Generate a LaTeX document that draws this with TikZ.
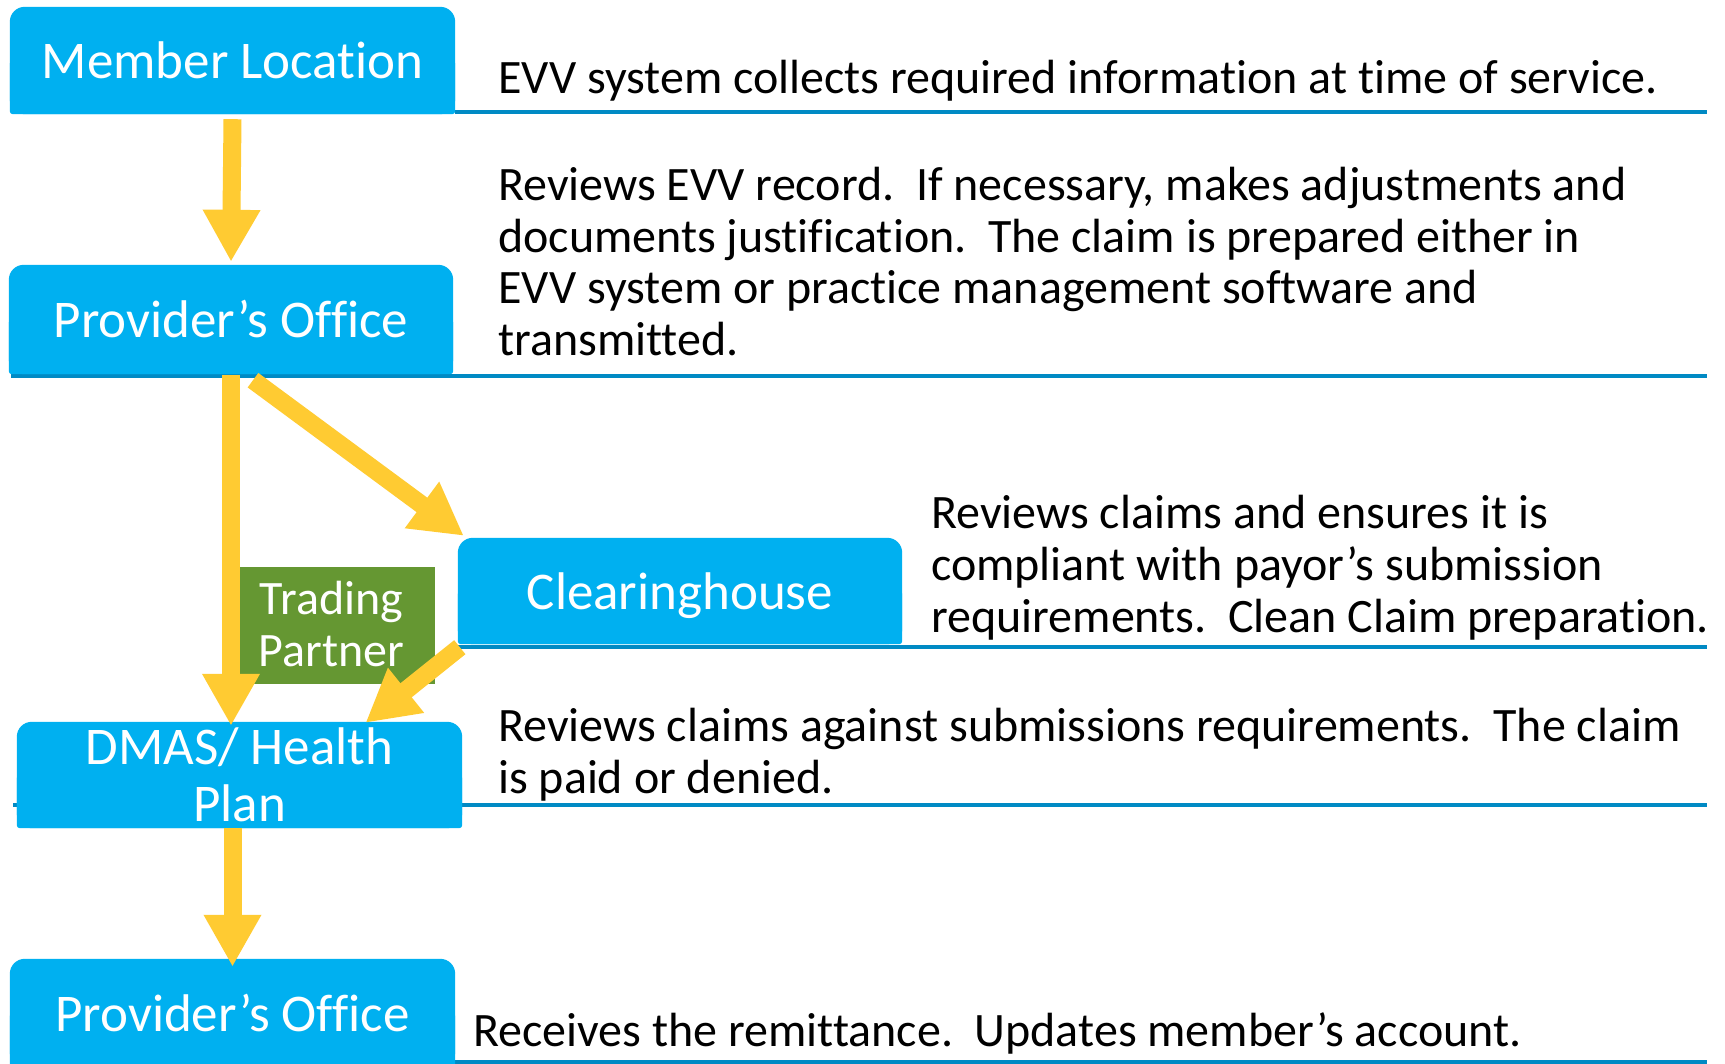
\documentclass[tikz,border=0pt]{standalone}
\usepackage{fontspec}
\setmainfont{Carlito}[RawFeature={-liga;-clig;-rlig;-calt}]
\usetikzlibrary{arrows.meta,backgrounds}
\definecolor{boxblue}{RGB}{0,176,240}
\definecolor{ruleblue}{RGB}{0,138,196}
\definecolor{arrowyellow}{RGB}{255,203,50}
\definecolor{tpgreen}{RGB}{101,151,50}
\begin{document}
\begin{tikzpicture}[x=1pt,y=-1pt,
  bluebox/.style={inner sep=0pt,text=white,font=\fontsize{53}{57}\selectfont},
  tpbox/.style={fill=tpgreen,inner sep=0pt,text=white,align=center,
    minimum width=195pt,minimum height=117pt,font=\fontsize{48}{52}\selectfont},
  desc/.style={anchor=base west,inner sep=0pt,font=\fontsize{48}{51}\selectfont},
  rule/.style={draw=ruleblue,line width=4.5pt},
  yarrow/.style={draw=arrowyellow,line width=18pt,
    -{Triangle[width=54pt,length=52pt]}},
  boxfill/.style={fill=boxblue}
]
\useasboundingbox (0,0) rectangle (1725,1064);

% boxes
\node[bluebox,minimum width=445pt,minimum height=107pt] (ml) at (232.5,60.5) {Member Location};
\node[bluebox,minimum width=444pt,minimum height=109pt] (po1) at (231,319.5) {Provider’s Office};
\node[bluebox,minimum width=444pt,minimum height=106pt,text depth=0pt] (ch) at (680,591) {Clearinghouse};
\node[bluebox,minimum width=445pt,minimum height=106pt,align=center] (dm) at (239.5,775) {DMAS/ Health\\Plan};
\node[bluebox,minimum width=445pt,minimum height=108pt] (po2) at (232.5,1013) {Provider’s Office};

% rule end points
\coordinate (r1) at (1707,112);
\coordinate (r2) at (1707,376);
\coordinate (r3) at (1707,647);
\coordinate (r4) at (1707,805);
\coordinate (l4) at (13,805);
\coordinate (r5) at (1707,1062);

\begin{scope}[on background layer]
  \fill[white] (0,0) rectangle (1725,1064);
  \draw[rule] (ml.east |- r1) -- (r1);
  \draw[rule] ([xshift=2pt]po1.west |- r2) -- (r2);
  \draw[rule] (ch.west |- r3) -- (r3);
  \draw[rule] (l4) -- (r4);
  \draw[rule] (po2.east |- r5) -- (r5);
  \foreach \b in {ml,po1,ch,dm,po2}{
    \fill[boxfill,rounded corners=15pt] (\b.south west) rectangle (\b.north east);
    \fill[boxfill,rounded corners=3pt] (\b.south west) rectangle (\b.east);
  }
\end{scope}

% trading partner
\node[tpbox] (tp) at (337.5,625.5) {\raisebox{3pt}{Trading}\kern12pt\\\raisebox{3pt}{Partner}\kern12pt};

% arrows
\coordinate (a2) at (po1.south |- dm.north);
\draw[yarrow] ([yshift=-5pt]ml.south) -- ([yshift=3pt]po1.north);
\draw[yarrow] ([yshift=-1pt]po1.south) -- ([yshift=-4pt]a2);
\draw[yarrow] ([xshift=22pt,yshift=-6pt]po1.south) -- ([xshift=6pt,yshift=2pt]ch.north west);
\draw[yarrow] ([xshift=2pt,yshift=-3pt]ch.south west) -- ([xshift=126pt,yshift=-1pt]dm.north);
\draw[yarrow] (po2.north |- dm.south) -- ([yshift=-8pt]po2.north);

% descriptions
\node[desc] (t1) at (498,94) {EVV system collects required information at time of service.};
\node[desc] (t2a) at (498,201) {Reviews EVV record.\ \ If necessary, makes adjustments and};
\node[desc] (t2b) at (498,253) {documents justification.\ \ The claim is prepared either in};
\node[desc] (t2c) at (498,304) {EVV system or practice management software and};
\node[desc] (t2d) at (498,356) {transmitted.};
\node[desc] (t3a) at (931,529) {Reviews claims and ensures it is};
\node[desc] (t3b) at (931,580) {compliant with payor’s submission};
\node[desc] (t3c) at (931,632) {requirements.\ \ Clean Claim preparation.};
\node[desc] (t4a) at (498,741) {Reviews claims against submissions requirements.\ \ The claim};
\node[desc] (t4b) at (498,793) {is paid or denied.};
\node[desc] (t5) at (473,1046) {Receives the remittance.\ \ Updates member’s account.};
\end{tikzpicture}
\end{document}
